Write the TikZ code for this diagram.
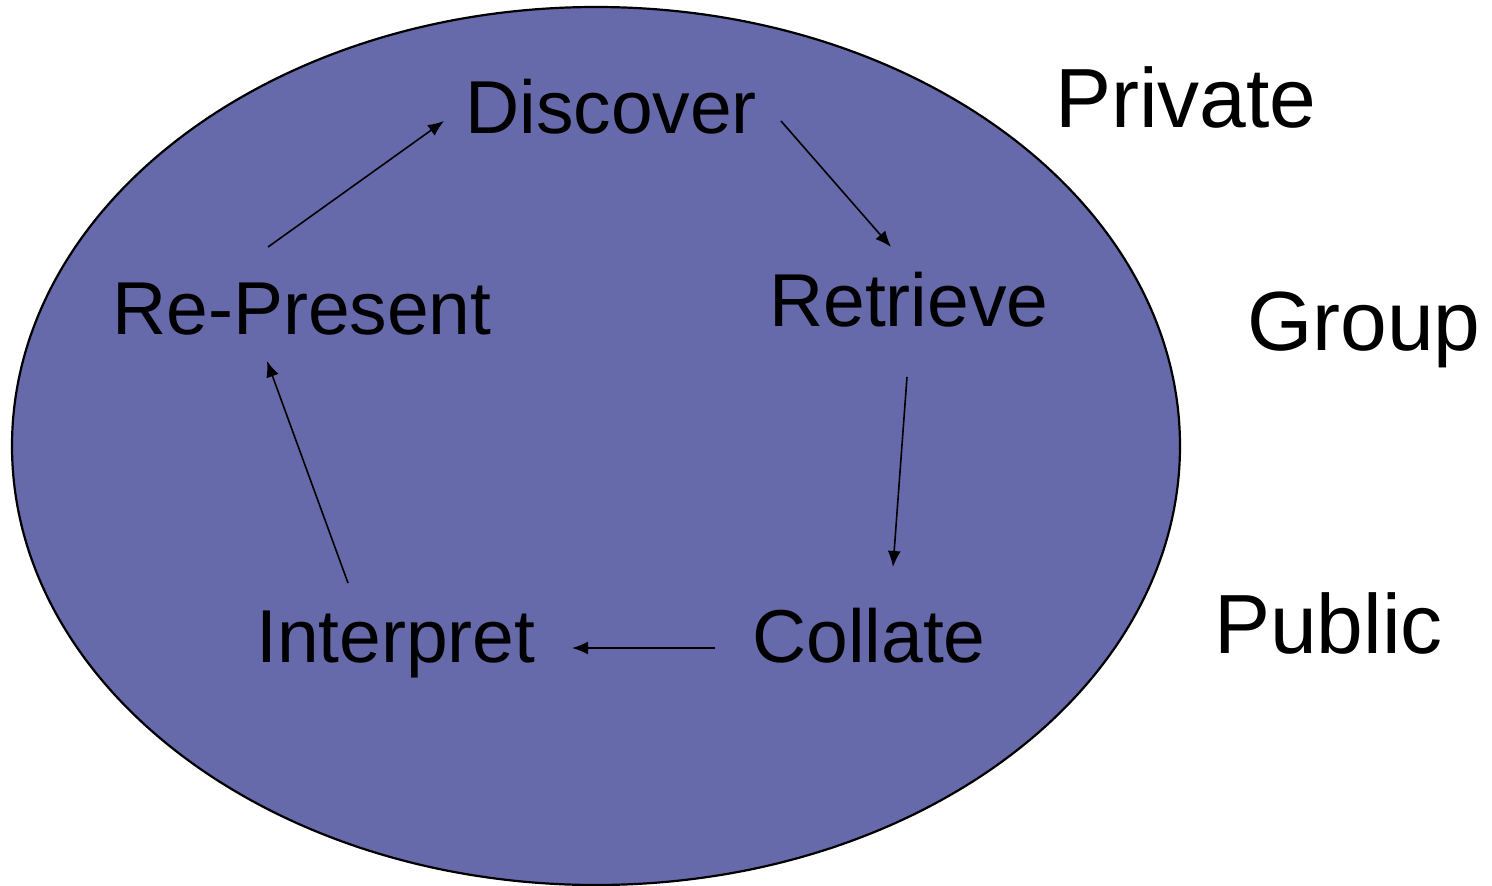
\documentclass[tikz,border=0pt]{standalone}
\usepackage{fontspec}
\setmainfont{Liberation Sans}
\usetikzlibrary{arrows.meta}
\definecolor{ellfill}{RGB}{102,105,170}
\begin{document}
\begin{tikzpicture}[x=1pt,y=-1pt,
  lbl/.style={anchor=base west,inner sep=0pt,font=\fontsize{75}{80}\selectfont},
  side/.style={anchor=base west,inner sep=0pt,font=\fontsize{84}{90}\selectfont},
  conn/.style={line width=1.6pt,-{Latex[length=16,width=13]}}]
\useasboundingbox (0,0) rectangle (1492,886);
\filldraw[fill=ellfill,draw=black,line width=2.2pt] (596,446) ellipse [x radius=584,y radius=439];
\node[lbl] (discover) at (465,133) {Discover};
\node[lbl] (retrieve) at (769,326) {Retrieve};
\node[lbl] (collate) at (752,662) {Collate};
\node[lbl] (interpret) at (256,662) {Interpret};
\node[lbl] (represent) at (112,334) {Re-Present};
\node[side] (private) at (1055,127) {Private};
\node[side] (group) at (1247,350) {Group};
\node[side] (public) at (1214,653) {Public};
\coordinate (d-out) at (781,121);
\coordinate (r-in) at (891,247);
\coordinate (r-out) at (907,377);
\coordinate (c-in) at (893,567);
\coordinate (c-out) at (715,648);
\coordinate (i-in) at (572,648);
\coordinate (i-out) at (348,583);
\coordinate (p-in) at (267,361);
\coordinate (p-out) at (268,247);
\coordinate (d-in) at (444,121);
\draw[conn] (d-out) -- (r-in);
\draw[conn] (r-out) -- (c-in);
\draw[conn] (c-out) -- (i-in);
\draw[conn] (i-out) -- (p-in);
\draw[conn] (p-out) -- (d-in);
\end{tikzpicture}
\end{document}
